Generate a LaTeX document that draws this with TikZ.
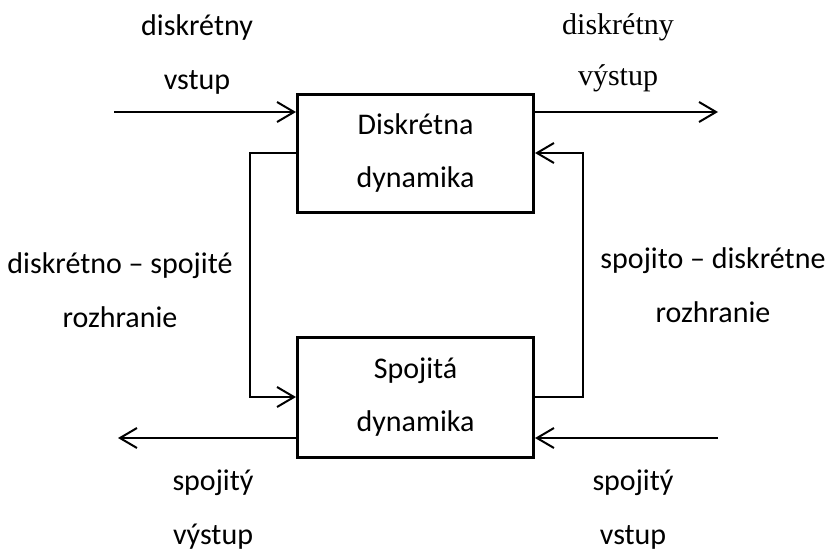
\documentclass[tikz,border=0pt]{standalone}
\usepackage{fontspec}
\setmainfont{Carlito}
\newfontfamily\timesf{Liberation Serif}
\usetikzlibrary{arrows.meta}
\begin{document}
\begin{tikzpicture}[x=1pt,y=-1pt,
  box/.style={draw,line width=3pt,minimum width=236pt,minimum height=118pt,align=center,inner sep=0pt,font=\fontsize{30}{53}\selectfont},
  lbl/.style={align=center,inner sep=0pt,font=\fontsize{30}{54}\selectfont},
  slbl/.style={align=center,inner sep=0pt,font=\timesf\fontsize{30}{51}\selectfont},
  arr/.style={line width=2pt,-{Straight Barb[length=17pt,width=20pt]}}]
\useasboundingbox (0,0) rectangle (826,552);
\node[box] (top) at (415.5,153) {Diskrétna\\dynamika};
\node[box,minimum height=120pt] (bot) at (415.5,397) {Spojitá\\dynamika};
% discrete input/output
\coordinate (din) at (114,112);
\coordinate (dout) at (718,112);
\draw[arr] (din) -- (din -| top.west);
\draw[arr] (dout -| top.east) -- (dout);
% continuous output/input
\coordinate (cout) at (118,438);
\coordinate (cin) at (718,438);
\draw[arr] (cout -| bot.west) -- (cout);
\draw[arr] (cin) -- (cin -| bot.east);
% feedback loops
\draw[arr] (top.west) -- ++(-46,0) |- (bot.west);
\draw[arr] (bot.east) -- ++(48,0) |- (top.east);
% labels
\node[lbl] (l1) at (197,54) {diskrétny\\vstup};
\node[slbl] (l2) at (618,53) {diskrétny\\výstup};
\node[lbl] (l3) at (120,290) {diskrétno – spojité\\rozhranie};
\node[lbl] (l4) at (713,285) {spojito – diskrétne\\rozhranie};
\node[lbl] (l5) at (213,510) {spojitý\\výstup};
\node[lbl] (l6) at (633,510) {spojitý\\vstup};
\end{tikzpicture}
\end{document}
